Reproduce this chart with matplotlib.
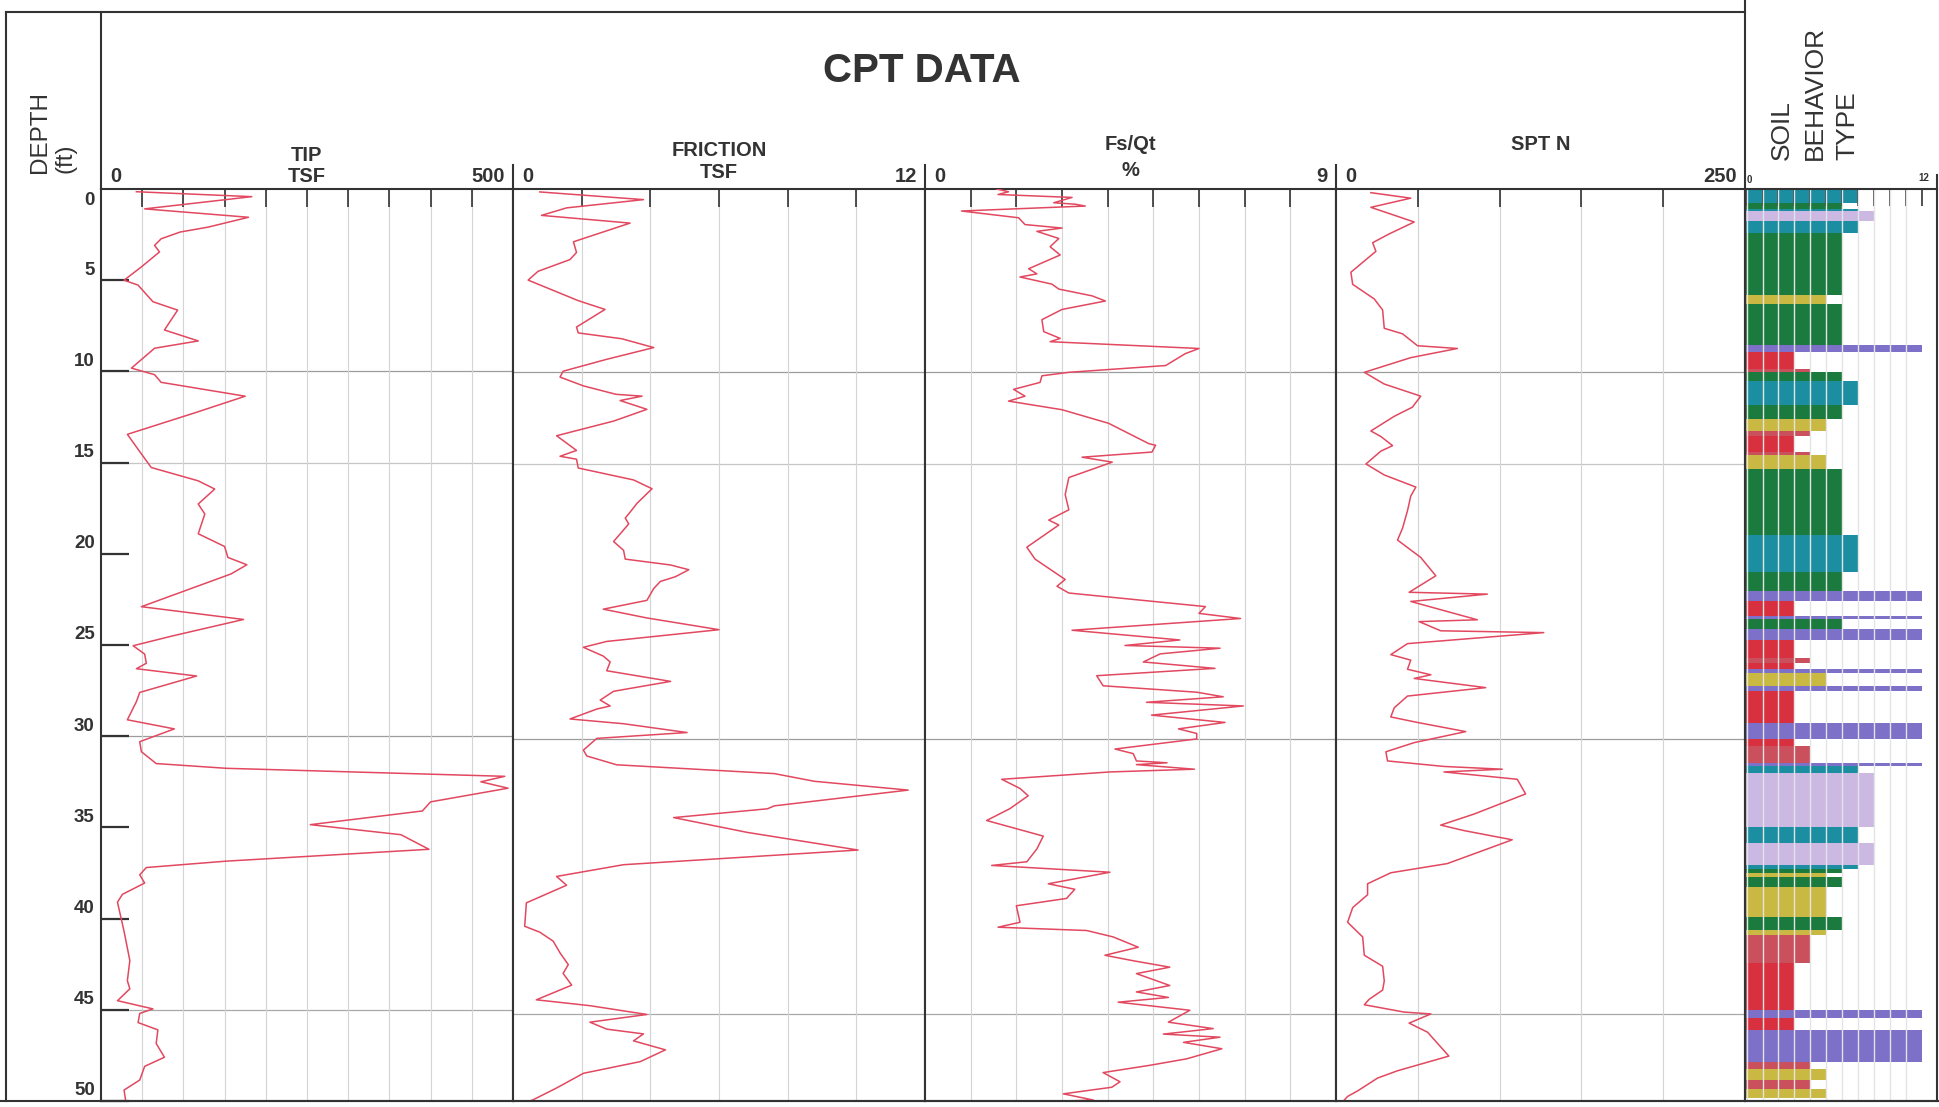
import numpy as np
import matplotlib.pyplot as plt
from matplotlib.lines import Line2D
from matplotlib.transforms import blended_transform_factory

plt.rcParams['font.family'] = ['Liberation Sans', 'DejaVu Sans']

W, H = 1940, 1107
INK = '#333333'
TRACE = '#e2485f'
DEPTH_MAX = 49.75

# cone tip resistance (TSF) vs depth (ft)
tip_depth = [0.15, 0.42, 1.09, 1.55, 2.09, 2.36, 2.73, 3.09, 3.45, 4.27, 5.0, 5.27, 6.18, 6.64,
             7.73, 8.33, 8.73, 9.82, 10.18, 10.6, 11.36, 12.27, 13.45, 14.27, 15.27, 16.0, 16.45,
             17.27, 17.82, 18.9, 19.6, 20.2, 20.6, 21.1, 22.9, 23.6, 24.5, 25.04, 25.5, 26.0, 26.3,
             26.7, 27.6, 28.1, 29.1, 29.6, 30.3, 30.85, 31.5, 31.76, 32.2, 32.5, 32.85, 33.6, 34.1,
             34.85, 35.4, 36.2, 36.85, 37.2, 37.6, 38.05, 38.67, 39.1, 40.7, 42.3, 43.4, 43.85, 44.5,
             44.95, 45.2, 45.7, 46.1, 46.85, 47.6, 48.1, 48.85, 49.4, 50.0]
tip_tsf = [43, 183, 53, 179, 130, 96, 73, 65, 71, 49, 28, 45, 63, 93,
           77, 118, 65, 37, 65, 73, 175, 114, 32, 45, 61, 118, 138,
           118, 126, 118, 150, 154, 177, 158, 49, 173, 87, 39, 53, 55, 43,
           116, 47, 43, 32, 89, 47, 49, 67, 152, 490, 461, 494, 400, 390,
           254, 364, 398, 152, 55, 47, 53, 26, 20, 28, 35, 32, 35, 20,
           63, 47, 45, 69, 67, 77, 53, 47, 28, 30]

# sleeve friction (TSF)
fr_depth = [0.16, 0.58, 1.03, 1.44, 1.86, 2.88, 3.46, 3.85, 4.49, 4.97, 6.09, 6.57, 7.53, 7.85,
            8.17, 8.65, 9.29, 9.94, 10.26, 10.74, 11.2, 11.3, 11.54, 12.02, 12.66, 13.46, 14.26,
            14.58, 14.74, 15.22, 15.87, 16.35, 17.15, 17.63, 17.95, 18.27, 19.23, 19.71, 20.19,
            20.51, 20.77, 21.15, 21.41, 21.79, 22.44, 22.92, 23.4, 24.04, 24.68, 25.0, 25.48, 25.8,
            26.28, 26.86, 27.4, 27.88, 28.2, 28.37, 28.91, 29.17, 29.65, 29.97, 30.61, 30.93,
            31.41, 31.89, 32.31, 32.79, 33.65, 33.81, 34.29, 35.1, 36.06, 36.86, 37.5, 37.98,
            38.94, 40.22, 40.54, 41.03, 41.67, 42.31, 42.79, 43.43, 44.23, 44.55, 45.03, 45.45,
            45.83, 46.09, 46.47, 46.96, 47.6, 48.24, 49.04, 49.68, 50.0]
fr_tsf = [0.78, 3.8, 1.56, 0.83, 3.41, 1.76, 1.85, 1.66, 0.73, 0.44, 1.9, 2.68, 1.85, 1.9,
          3.17, 4.1, 2.73, 1.46, 1.37, 2.05, 3.0, 3.76, 3.12, 3.9, 2.93, 1.27, 1.85,
          1.37, 1.85, 1.9, 3.51, 4.05, 3.61, 3.41, 3.27, 3.37, 2.93, 3.22, 3.27,
          4.59, 5.12, 4.73, 4.29, 4.1, 3.9, 2.63, 3.9, 6.0, 2.73, 2.05, 2.63, 2.83,
          2.73, 4.59, 2.93, 2.54, 2.83, 2.44, 1.66, 3.22, 5.07, 2.44, 2.05, 2.15,
          3.02, 7.61, 8.78, 11.51, 7.61, 7.41, 4.68, 6.83, 10.05, 3.22, 1.27, 1.56,
          0.39, 0.34, 0.78, 1.17, 1.37, 1.61, 1.46, 1.71, 0.68, 2.24, 3.9, 2.24,
          2.73, 3.8, 3.51, 4.44, 3.71, 2.05, 1.27, 0.59, 0.1]

# friction ratio Fs/Qt (%)
fs_depth = [0.0, 0.15, 0.3, 0.46, 0.75, 0.83, 0.93, 1.2, 1.57, 1.94, 2.13, 2.31, 2.7, 3.15, 3.6,
            4.35, 4.63, 4.8, 5.19, 5.46, 5.83, 6.11, 6.57, 7.13, 7.78, 8.15, 8.33, 8.7, 8.98, 9.63,
            10.0, 10.19, 10.55, 10.93, 11.3, 11.57, 12.04, 12.78, 13.89, 13.98, 14.35, 14.63, 14.9,
            15.74, 16.67, 17.5, 18.06, 18.33, 19.54, 20.19, 21.3, 21.67, 22.04, 22.78, 23.15,
            23.43, 24.07, 24.6, 24.9, 25.05, 25.36, 25.8, 26.15, 26.55, 27.1, 27.45, 27.7, 28.0,
            28.2, 28.7, 29.1, 29.45, 29.7, 30.0, 30.55, 30.8, 31.2, 31.3, 31.4, 31.65, 31.8, 32.2,
            32.7, 33.1, 33.8, 34.45, 35.3, 36.0, 36.7, 36.9, 37.27, 37.9, 38.2, 38.7, 39.1, 40.0,
            40.27, 40.45, 40.8, 41.36, 41.8, 42.1, 42.45, 42.8, 43.45, 43.8, 44.1, 44.36, 44.8,
            45.45, 45.8, 46.1, 46.27, 46.55, 46.9, 47.45, 47.8, 48.2, 48.7, 49.0, 49.36, 49.7, 50.0]
fs_pct = [1.57, 1.83, 1.6, 3.22, 2.82, 3.29, 3.51, 0.8, 2.05, 2.19, 3.0, 2.45, 2.93, 2.74, 2.96,
          2.27, 2.45, 2.08, 2.78, 2.93, 3.66, 3.95, 3.0, 2.56, 2.6, 2.96, 2.74, 6.0, 5.7, 5.27,
          3.15, 2.56, 2.52, 1.94, 2.19, 1.83, 3.0, 4.02, 4.9, 5.05, 4.97, 3.44, 4.1,
          3.15, 3.07, 3.15, 2.71, 2.93, 2.23, 2.41, 3.07, 2.89, 3.15, 6.14, 6.0,
          6.91, 3.22, 5.58, 4.38, 6.46, 5.15, 4.78, 6.35, 3.76, 3.9, 5.95, 6.53, 4.85,
          6.97, 4.96, 6.57, 5.55, 5.95, 5.95, 4.16, 4.56, 4.63, 5.3, 4.63, 5.9, 4.05, 1.68,
          2.08, 2.26, 1.86, 1.35, 2.59, 2.45, 2.23, 1.46, 4.05, 2.7, 3.28, 3.1, 2.0, 2.08,
          1.6, 3.54, 4.12, 4.67, 3.94, 4.56, 5.36, 4.63, 5.36, 4.63, 5.33, 4.23, 5.8,
          5.33, 6.31, 5.22, 6.46, 5.66, 6.5, 5.73, 4.93, 3.9, 4.27, 4.09, 3.03, 3.69, 0.1]

# equivalent SPT N
spt_depth = [0.2, 0.5, 1.0, 1.8, 2.45, 2.93, 3.4, 4.54, 5.2, 6.0, 6.6, 7.6, 7.9, 8.55, 8.7, 9.2,
             10.0, 10.64, 11.3, 11.9, 12.4, 13.2, 13.5, 14.0, 14.3, 15.0, 15.6, 16.26, 16.75,
             17.55, 18.5, 19.15, 20.1, 21.1, 22.0, 22.1, 22.5, 23.5, 23.6, 24.1, 24.2, 24.8, 25.4,
             25.7, 26.2, 26.5, 26.7, 27.2, 27.66, 28.3, 28.8, 29.1, 29.6, 30.2, 30.7, 31.2, 31.5,
             31.65, 31.8, 32.2, 33.0, 34.1, 34.7, 35.0, 35.5, 36.0, 36.8, 37.3, 37.9, 38.5, 39.2,
             40.0, 40.8, 41.8, 42.4, 43.2, 43.7, 44.2, 44.5, 44.9, 45.0, 45.5, 46.0, 46.6, 47.3,
             48.1, 48.5, 49.2, 49.5, 50.0]
spt_n = [21.3, 45.7, 21.3, 47.8, 32.5, 22.4, 24.4, 9.1, 10.2, 23.4, 28.5, 29.5, 40.7, 49.8, 74.2, 45.7,
         17.3, 29.5, 51.8, 46.7, 35.6, 21.3, 27.4, 34.6, 27.4, 18.3, 29.5, 48.8, 45.7,
         43.7, 40.7, 37.6, 51.8, 61.0, 44.7, 92.5, 45.7, 86.4, 50.8, 64.0, 127.0, 43.7, 33.5,
         45.7, 43.7, 58.0, 47.8, 91.5, 43.7, 35.6, 33.5, 49.8, 79.3, 47.8, 30.5, 31.5, 66.0,
         101.6, 66.0, 110.8, 115.9, 84.3, 64.0, 78.3, 107.7, 92.5, 68.0, 33.5, 19.3, 19.3, 10.2,
         7.1, 16.3, 17.3, 28.5, 29.5, 28.5, 20.3, 17.3, 41.7, 58.0, 44.7, 56.0, 62.0, 69.0,
         37.6, 25.4, 13.2, 7.1, 2.0]

# soil behaviour type layers: boundaries (ft) and zone number of each layer
soil_bounds = [0.0, 0.75, 1.1, 1.2, 1.75, 2.4, 5.8, 6.3, 8.5, 8.9, 9.8, 10.0, 10.5, 11.8, 12.55,
               13.2, 13.5, 14.35, 14.5, 15.3, 18.9, 20.9, 21.95, 22.5, 23.3, 23.45, 24.0, 24.6,
               25.6, 25.85, 26.2, 26.4, 27.1, 27.4, 29.15, 30.0, 30.4, 31.3, 31.45, 31.85, 34.8,
               35.65, 36.85, 37.1, 37.3, 37.55, 38.1, 39.7, 40.4, 40.7, 42.2, 44.8, 45.2, 45.9,
               47.6, 48.0, 48.6, 49.1, 49.6]
soil_zone = [8, 7, 8, 9, 8, 7, 6, 7, 12, 4, 5, 7, 8, 7,
             6, 5, 4, 5, 6, 7, 8, 7, 12, 4, 12, 7, 12,
             4, 5, 4, 12, 6, 12, 4, 12, 4, 5, 12, 8, 9,
             8, 9, 8, 7, 6, 7, 6, 7, 6, 5, 4, 12, 4,
             12, 5, 6, 5, 6]
zone_colors = {4: '#d8303e', 5: '#c9505c', 6: '#c9b842', 7: '#1b7a3e',
               8: '#1c8ea2', 9: '#cbb9e3', 12: '#7d70c8'}

fig = plt.figure(figsize=(W / 100, H / 100), dpi=100)


def px_axes(x0, x1, y0=189, y1=1101):
    return fig.add_axes([x0 / W, 1 - y1 / H, (x1 - x0) / W, (y1 - y0) / H])


def ftext(x, y, s, **kw):
    fig.text(x / W, 1 - y / H, s, color=INK, **kw)


def fline(xs, ys, lw=1.5):
    fig.add_artist(Line2D([x / W for x in xs], [1 - y / H for y in ys], color=INK, lw=lw))


def frame(ax):
    for s in ax.spines.values():
        s.set_color(INK)
        s.set_linewidth(1.5)


edges = [101, 513, 925, 1336, 1745]
channels = [(tip_depth, tip_tsf, 500, 50),
            (fr_depth, fr_tsf, 12, 2),
            (fs_depth, fs_pct, 9, 1),
            (spt_depth, spt_n, 250, 50)]

for i, (dep, val, vmax, step) in enumerate(channels):
    ax = px_axes(edges[i], edges[i + 1])
    ax.plot(val, dep, color=TRACE, lw=1.1, zorder=3)
    ax.set_xlim(0, vmax)
    ax.set_ylim(DEPTH_MAX, 0)
    ax.set_xticks(np.arange(step, vmax, step))
    ax.grid(axis='x', color='#d4d4d4', lw=0.8)
    ax.tick_params(axis='x', direction='in', top=True, bottom=False, labeltop=False,
                   labelbottom=False, length=13, width=1.2, color=INK)
    for d, c in [(10, '#9c9c9c'), (15, '#c6c6c6'), (30, '#9c9c9c'), (45, '#a8a8a8')]:
        ax.axhline(d, color=c, lw=0.9, zorder=1)
    frame(ax)
    if i == 0:
        ax.set_yticks(range(5, 51, 5))
        ax.tick_params(axis='y', direction='in', length=20, width=1.6, color=INK, labelleft=False)
        tr = blended_transform_factory(ax.transAxes, ax.transData)
        for d in range(0, 51, 5):
            ax.text(-0.015, 0.65 if d == 0 else d - 0.55, str(d), transform=tr, ha='right',
                    va='center', fontsize=13.5, fontweight='bold', color=INK, clip_on=False)
    else:
        ax.tick_params(axis='y', left=False, labelleft=False)

# soil behaviour type column
sax = px_axes(1745, 1937)
tops = np.array(soil_bounds[:-1])
thick = np.diff(soil_bounds)
sax.barh(tops, soil_zone, height=thick, left=0, align='edge',
         color=[zone_colors[z] for z in soil_zone], zorder=1)
for u in range(1, 12):
    sax.axvline(u, color='#e4e4e4', lw=1.0, zorder=2)
sax.set_xlim(0.9, 12.96)
sax.set_ylim(DEPTH_MAX, 0)
sax.set_xticks(range(1, 13))
sax.tick_params(axis='x', direction='in', top=True, bottom=False, labeltop=False,
                labelbottom=False, length=12, width=1.2, color=INK)
sax.tick_params(axis='y', left=False, labelleft=False)
frame(sax)

# page frame and header dividers
fline([6, 1745], [12, 12])
fline([6, 6], [12, 1101])
fline([101, 101], [12, 189])
fline([1745, 1745], [0, 189])
fline([1937, 1937], [175, 189])
fline([0, 1940], [1101, 1101])
for x in edges[1:4]:
    fline([x, x], [165, 189])

ftext(922, 71, 'CPT DATA', ha='center', va='center', fontsize=29, fontweight='bold')
ftext(40, 173, 'DEPTH', rotation=90, ha='center', va='bottom', fontsize=17.5)
ftext(66, 173, '(ft)', rotation=90, ha='center', va='bottom', fontsize=17.5)
for x, s in [(1782, 'SOIL'), (1815, 'BEHAVIOR'), (1847, 'TYPE')]:
    ftext(x, 160, s, rotation=90, ha='center', va='bottom', fontsize=19)

hdr = dict(fontsize=14.5, fontweight='bold')
heads = [('TIP', 'TSF', '500', 155, 176),
         ('FRICTION', 'TSF', '12', 150, 172),
         ('Fs/Qt', '%', '9', 145, 170),
         ('SPT N', None, '250', 145, None)]
for i, (top, sub, vmax, y1, y2) in enumerate(heads):
    x0, x1 = edges[i], edges[i + 1]
    xc = (x0 + x1) / 2
    ftext(x0 + 9, 177, '0', ha='left', va='center', **hdr)
    ftext(x1 - 8, 177, vmax, ha='right', va='center', **hdr)
    ftext(xc, y1, top, ha='center', va='center', **hdr)
    if sub:
        ftext(xc, y2, sub, ha='center', va='center', **hdr)
ftext(1749, 180, '0', ha='center', va='center', fontsize=7, fontweight='bold')
ftext(1924, 178, '12', ha='center', va='center', fontsize=7, fontweight='bold')

fig.savefig('out.png', dpi=100)
